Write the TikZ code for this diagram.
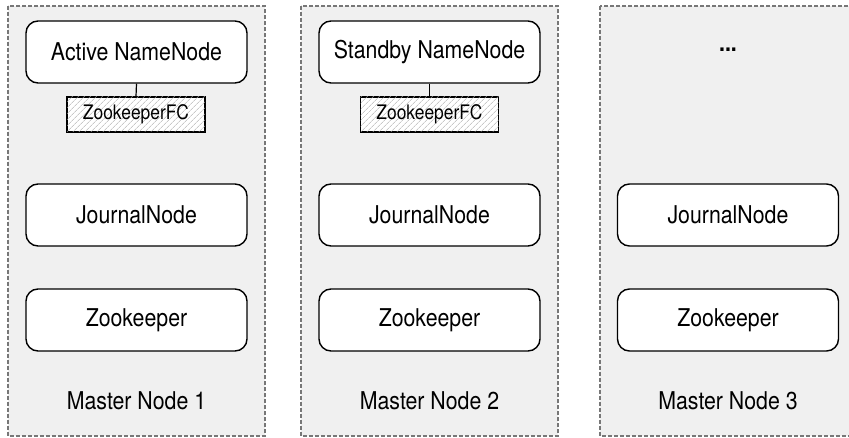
\documentclass[tikz,border=0pt]{standalone}
\usepackage{fontspec}
\setmainfont{TeX Gyre Heros}[FakeStretch=0.87]
\usetikzlibrary{patterns.meta}
\definecolor{panelbg}{HTML}{F0F0F0}
\definecolor{panelbd}{HTML}{777777}
\begin{document}
\begin{tikzpicture}[x=1pt,y=-1pt,
  panel/.style={draw=panelbd,fill=panelbg,line width=1.8pt,dash pattern=on 4pt off 2pt},
  svc/.style={draw=black,fill=white,line width=1.4pt,rounded corners=12pt,minimum width=221pt,minimum height=62pt,inner sep=0pt,font=\fontsize{24.5}{26}\selectfont},
  zkfc/.style={draw=black,line width=1.4pt,fill=white,postaction={pattern={Lines[angle=45,distance=4pt,line width=0.5pt]},pattern color=gray!65},minimum width=138pt,minimum height=35pt,inner sep=0pt,font=\fontsize{20}{22}\selectfont},
  lbl/.style={font=\fontsize{24.5}{26}\selectfont,inner sep=0pt}]
\useasboundingbox (0,0) rectangle (849,438);
% panels
\path[panel] (8,6) rectangle (265,436);
\path[panel] (301,6) rectangle (558,436);
\path[panel] (600,6) rectangle (870,436);
% panel 1
\node[svc] (nn1) at (136.5,52) {Active NameNode};
\node[zkfc] (fc1) at (136,114.5) {ZookeeperFC};
\draw[line width=1.2pt] (nn1.south) -- (fc1.north);
\node[svc] (jn1) at (136.5,215) {JournalNode};
\node[svc] (zk1) at (136.5,320) {Zookeeper};
\node[lbl] (m1) at (136.5,401) {Master Node 1};
% panel 2
\node[svc] (nn2) at (429.5,52) {Standby NameNode};
\node[zkfc] (fc2) at (429.5,114.5) {ZookeeperFC};
\draw[line width=1.2pt] (nn2.south) -- (fc2.north);
\node[svc] (jn2) at (429.5,215) {JournalNode};
\node[svc] (zk2) at (429.5,320) {Zookeeper};
\node[lbl] (m2) at (429.5,401) {Master Node 2};
% panel 3
\node[lbl,font=\fontsize{24.5}{26}\bfseries\selectfont] (dots) at (728,50) {...};
\node[svc] (jn3) at (728,215) {JournalNode};
\node[svc] (zk3) at (728,320) {Zookeeper};
\node[lbl] (m3) at (728,401) {Master Node 3};
\end{tikzpicture}
\end{document}
